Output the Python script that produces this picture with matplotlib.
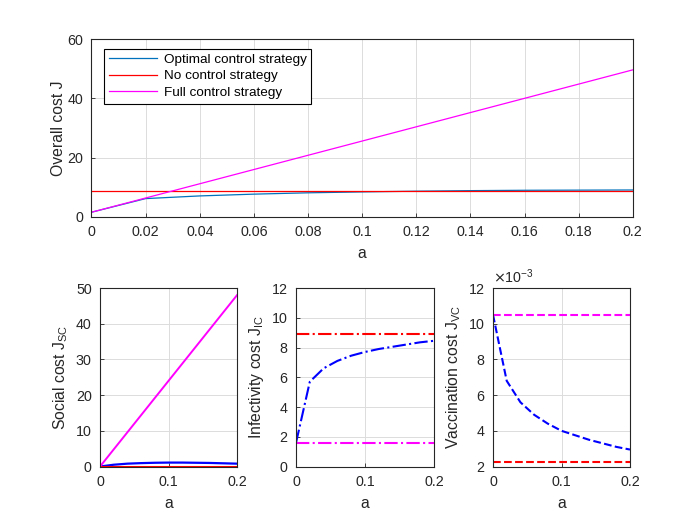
import numpy as np
import matplotlib.pyplot as plt
from matplotlib.ticker import FuncFormatter

# Data
a = [0, 0.02, 0.04, 0.06, 0.08, 0.1, 0.12, 0.14, 0.16, 0.18, 0.2]

J_opt = [1.6, 6.2, 7.1, 7.7, 8.15, 8.45, 8.7, 8.88, 9.0, 9.05, 9.1]
J_none = [8.9] * 11
J_full = [1.6, 6.4, 11.2, 16.0, 20.8, 25.6, 30.4, 35.2, 40.0, 44.8, 49.6]

SC_opt = [0.0, 0.5, 0.8, 0.95, 1.05, 1.1, 1.1, 1.05, 1.0, 0.9, 0.8]
SC_none = [0.0] * 11
SC_full = [0.0, 4.8, 9.6, 14.4, 19.2, 24.0, 28.8, 33.6, 38.4, 43.2, 48.0]

IC_opt = [1.6, 5.7, 6.6, 7.1, 7.45, 7.7, 7.9, 8.05, 8.2, 8.35, 8.45]
IC_none = [8.9] * 11
IC_full = [1.6] * 11

VC_opt = [10.5e-3, 6.8e-3, 5.6e-3, 4.9e-3, 4.4e-3, 4.0e-3, 3.75e-3, 3.5e-3, 3.3e-3, 3.1e-3, 2.95e-3]
VC_none = [2.25e-3] * 11
VC_full = [10.5e-3] * 11

plt.rcParams['font.family'] = ['Liberation Sans', 'DejaVu Sans']
plt.rcParams['font.size'] = 10

TXT = '#262626'
GRID = '#dcdcdc'
MBLUE = '#0072BD'
TICK_FS = 10.3
LAB_FS = 11.3


def style(ax):
    ax.tick_params(direction='in', length=3, width=0.6, colors=TXT, labelsize=TICK_FS,
                   top=False, right=False, pad=6)
    for s in ax.spines.values():
        s.set_color(TXT)
        s.set_linewidth(0.8)
    ax.grid(True, color=GRID, linewidth=0.7)
    ax.set_axisbelow(True)


fig = plt.figure(figsize=(7, 5.25), dpi=100)

# Top panel: overall cost
ax = fig.add_axes([0.1307, 0.5867, 0.7733, 0.339])
ax.plot(a, J_opt, color=MBLUE, lw=0.9, label='Optimal control strategy')
ax.plot(a, J_none, color='red', lw=0.9, label='No control strategy')
ax.plot(a, J_full, color='magenta', lw=0.9, label='Full control strategy')
ax.set_xlim(0, 0.2)
ax.set_ylim(0, 60)
ax.set_xticks(np.arange(0, 0.21, 0.02))
ax.set_xticklabels(['0', '0.02', '0.04', '0.06', '0.08', '0.1', '0.12', '0.14', '0.16', '0.18', '0.2'])
ax.set_yticks([0, 20, 40, 60])
ax.set_xlabel('a', fontsize=LAB_FS, color=TXT, labelpad=5)
ax.set_ylabel('Overall cost J', fontsize=LAB_FS, color=TXT, labelpad=1)
style(ax)
leg = ax.legend(loc='upper left', bbox_to_anchor=(0.023, 0.945), fancybox=False,
                edgecolor='black', framealpha=1, fontsize=9.7, handlelength=3.6,
                handletextpad=0.5, borderpad=0.35, labelspacing=0.3, borderaxespad=0)
leg.get_frame().set_linewidth(0.8)

bottom, h, w = 0.1114, 0.34, 0.1957

# Social cost
ax1 = fig.add_axes([0.1429, bottom, w, h])
ax1.plot(a, SC_opt, color='blue', lw=1.6)
ax1.plot(a, SC_none, color='red', lw=2.2)
ax1.plot(a, SC_full, color='magenta', lw=1.4)
ax1.set_xlim(0, 0.2)
ax1.set_ylim(0, 50)
ax1.set_xticks([0, 0.1, 0.2])
ax1.set_xticklabels(['0', '0.1', '0.2'])
ax1.set_yticks([0, 10, 20, 30, 40, 50])
ax1.set_xlabel('a', fontsize=LAB_FS, color=TXT, labelpad=5)
ax1.set_ylabel('Social cost J$_\\mathregular{SC}$', fontsize=LAB_FS, color=TXT)
style(ax1)

# Infectivity cost
ax2 = fig.add_axes([0.4229, bottom, 0.197, h])
ax2.plot(a, IC_opt, color='blue', lw=1.5, ls='-.')
ax2.plot(a, IC_none, color='red', lw=1.5, ls='-.')
ax2.plot(a, IC_full, color='magenta', lw=1.5, ls='-.')
ax2.set_xlim(0, 0.2)
ax2.set_ylim(0, 12)
ax2.set_xticks([0, 0.1, 0.2])
ax2.set_xticklabels(['0', '0.1', '0.2'])
ax2.set_yticks([0, 2, 4, 6, 8, 10, 12])
ax2.set_xlabel('a', fontsize=LAB_FS, color=TXT, labelpad=5)
ax2.set_ylabel('Infectivity cost J$_\\mathregular{IC}$', fontsize=LAB_FS, color=TXT)
style(ax2)

# Vaccination cost
ax3 = fig.add_axes([0.7043, bottom, w, h])
ax3.plot(a, VC_opt, color='blue', lw=1.5, ls='--')
ax3.plot(a, VC_none, color='red', lw=1.5, ls='--')
ax3.plot(a, VC_full, color='magenta', lw=1.5, ls='--')
ax3.set_xlim(0, 0.2)
ax3.set_ylim(0.002, 0.012)
ax3.set_xticks([0, 0.1, 0.2])
ax3.set_xticklabels(['0', '0.1', '0.2'])
ax3.set_yticks([0.002, 0.004, 0.006, 0.008, 0.010, 0.012])
ax3.yaxis.set_major_formatter(FuncFormatter(lambda v, p: '%g' % round(v * 1000, 6)))
ax3.text(0, 1.01, '$\\times$10$^\\mathregular{-3}$', transform=ax3.transAxes,
         fontsize=TICK_FS, color=TXT, ha='left', va='bottom')
ax3.set_xlabel('a', fontsize=LAB_FS, color=TXT, labelpad=5)
ax3.set_ylabel('Vaccination cost J$_\\mathregular{VC}$', fontsize=LAB_FS, color=TXT)
style(ax3)

fig.savefig('out.png', dpi=100)
